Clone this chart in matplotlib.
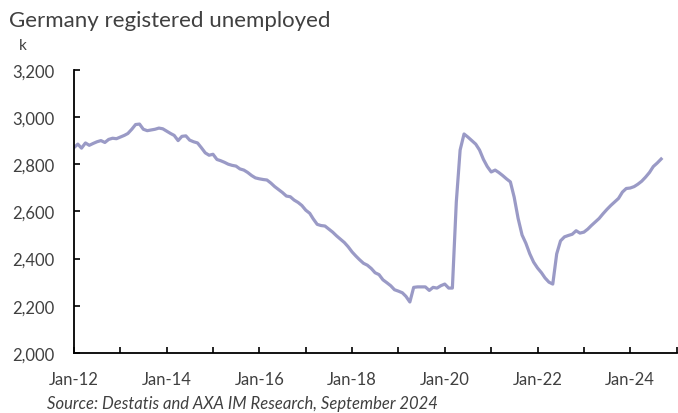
import matplotlib
matplotlib.use('Agg')
import matplotlib.pyplot as plt
import pandas as pd

# Monthly registered unemployed, thousands, Jan-12 .. Sep-24
y2012 = [2870, 2885, 2868, 2890, 2880, 2888, 2895, 2900, 2892, 2905, 2910, 2908]
y2013 = [2915, 2922, 2930, 2948, 2968, 2970, 2948, 2942, 2945, 2948, 2953, 2950]
y2014 = [2940, 2930, 2922, 2900, 2918, 2920, 2902, 2895, 2890, 2870, 2848, 2838]
y2015 = [2842, 2820, 2815, 2808, 2800, 2795, 2792, 2780, 2775, 2765, 2752, 2742]
y2016 = [2738, 2735, 2733, 2720, 2705, 2692, 2680, 2665, 2662, 2648, 2638, 2625]
y2017 = [2605, 2592, 2568, 2545, 2540, 2538, 2525, 2512, 2496, 2482, 2468, 2450]
y2018 = [2428, 2410, 2395, 2380, 2372, 2358, 2340, 2332, 2310, 2298, 2285, 2268]
y2019 = [2262, 2255, 2240, 2216, 2278, 2280, 2280, 2280, 2265, 2278, 2275, 2285]
y2020 = [2292, 2275, 2275, 2640, 2860, 2928, 2915, 2900, 2885, 2860, 2820, 2790]
y2021 = [2767, 2775, 2765, 2752, 2738, 2725, 2660, 2570, 2500, 2465, 2420, 2385]
y2022 = [2360, 2340, 2318, 2300, 2292, 2420, 2475, 2492, 2498, 2503, 2518, 2508]
y2023 = [2512, 2525, 2540, 2555, 2570, 2590, 2608, 2625, 2640, 2655, 2682, 2697]
y2024 = [2699, 2705, 2715, 2728, 2745, 2765, 2790, 2805, 2822]

values = (y2012 + y2013 + y2014 + y2015 + y2016 + y2017 + y2018
          + y2019 + y2020 + y2021 + y2022 + y2023 + y2024)
dates = pd.date_range('2012-01-01', periods=len(values), freq='MS')

yticks = [2000, 2200, 2400, 2600, 2800, 3000, 3200]
years = list(range(2012, 2026))

plt.rcParams['font.family'] = ['Lato', 'DejaVu Sans']
txt = '#404040'

fig = plt.figure(figsize=(6.78, 4.14), dpi=100)
ax = fig.add_axes([0.109, 0.145, 0.889, 0.684])

ax.plot(dates, values, color='#9A9AC6', linewidth=2.3, solid_joinstyle='round')

ax.set_ylim(2000, 3200)
ax.set_yticks(yticks)
ax.set_yticklabels([f'{v:,}' for v in yticks])

xt = [pd.Timestamp(f'{y}-01-01') for y in years]
ax.set_xlim(xt[0], xt[-1])
ax.set_xticks(xt)
ax.set_xticklabels([f'Jan-{y % 100:02d}' if y % 2 == 0 and y < 2025 else '' for y in years])

for s in ['top', 'right']:
    ax.spines[s].set_visible(False)
for s in ['left', 'bottom']:
    ax.spines[s].set_color('black')
    ax.spines[s].set_linewidth(1.3)

ax.tick_params(axis='both', direction='in', length=4, width=1.2, colors='black',
               labelcolor=txt, labelsize=12)
ax.tick_params(axis='y', pad=14)
ax.tick_params(axis='x', pad=13)

fig.text(0.013, 0.950, 'Germany registered unemployed', fontsize=16, color=txt,
         ha='left', va='center')
fig.text(0.028, 0.889, 'k', fontsize=11, color=txt, ha='left', va='center')
fig.text(0.070, 0.025, 'Source: Destatis and AXA IM Research, September 2024',
         fontsize=12, style='italic', color=txt, ha='left', va='center')

fig.savefig('out.png', dpi=100)
